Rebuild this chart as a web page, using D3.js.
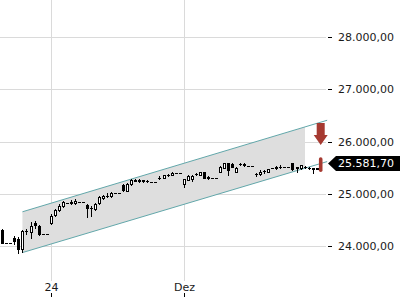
<!DOCTYPE html>
<html>
<head>
<meta charset="utf-8">
<script src="https://cdn.jsdelivr.net/npm/d3@7"></script>
<style>
  html, body { margin: 0; padding: 0; background: #fff; }
  svg { display: block; font-family: "DejaVu Sans", sans-serif; }
</style>
</head>
<body>
<svg id="chart" width="400" height="300"></svg>
<script>
// Candle data (index = bar number, left to right)
const opens = [
  24310, 24065, 24065, 24160, 24140, 23950, 24295, 24275, 24445, 24390,
  24235, 24235, 24445, 24600, 24695, 24770, 24830, 24845, 24830, 24855,
  24855, 24790, 24740, 24715, 24820, 24925, 24970, 24960, 25010, 25010,
  25170, 25065, 25190, 25275, 25260, 25260, 25250, 25230, 25230, 25305,
  25315, 25365, 25365, 25410, 25410, 25190, 25270, 25285, 25380, 25365,
  25420, 25320, 25315, 25315, 25430, 25505, 25585, 25575, 25430, 25575,
  25575, 25540, 25540, 25380, 25380, 25440, 25430, 25490, 25490, 25525,
  25520, 25520, 25600, 25515, 25490, 25515, 25495, 25490, 25495, 25480
];
const highs = [
  24330, 24065, 24065, 24205, 24180, 24310, 24330, 24465, 24485, 24405,
  24235, 24235, 24620, 24715, 24810, 24865, 24830, 24885, 24905, 24855,
  24855, 24810, 24770, 24830, 24960, 24980, 25010, 25040, 25010, 25010,
  25190, 25210, 25285, 25285, 25285, 25275, 25270, 25230, 25230, 25345,
  25365, 25380, 25420, 25410, 25410, 25295, 25355, 25365, 25410, 25430,
  25430, 25345, 25315, 25315, 25535, 25595, 25595, 25585, 25515, 25595,
  25585, 25540, 25540, 25410, 25450, 25460, 25480, 25490, 25535, 25545,
  25520, 25520, 25600, 25525, 25555, 25535, 25515, 25495, 25495, 25705
];
const lows = [
  24065, 24065, 24065, 24045, 23870, 23890, 24235, 24160, 24350, 24215,
  24235, 24235, 24425, 24580, 24675, 24750, 24830, 24810, 24810, 24855,
  24855, 24560, 24580, 24695, 24810, 24905, 24935, 24945, 25010, 25010,
  25055, 25055, 25170, 25240, 25230, 25230, 25220, 25230, 25230, 25285,
  25305, 25335, 25355, 25410, 25410, 25135, 25260, 25250, 25355, 25355,
  25305, 25295, 25315, 25315, 25420, 25495, 25365, 25515, 25420, 25555,
  25535, 25540, 25540, 25345, 25365, 25410, 25420, 25490, 25480, 25495,
  25520, 25520, 25460, 25420, 25480, 25495, 25470, 25400, 25470, 25420
];
const closes = [
  24065, 24065, 24065, 24100, 23950, 24295, 24285, 24390, 24405, 24235,
  24235, 24235, 24580, 24695, 24770, 24845, 24830, 24835, 24875, 24855,
  24855, 24730, 24725, 24810, 24935, 24970, 24960, 25020, 25010, 25010,
  25075, 25200, 25275, 25250, 25250, 25250, 25240, 25230, 25230, 25315,
  25355, 25360, 25410, 25410, 25410, 25285, 25335, 25345, 25385, 25420,
  25315, 25315, 25315, 25315, 25525, 25585, 25460, 25525, 25505, 25570,
  25545, 25540, 25540, 25375, 25430, 25435, 25470, 25490, 25525, 25515,
  25520, 25520, 25470, 25495, 25545, 25510, 25490, 25485, 25480, 25581.7
];

// Axis ticks
const priceTicks = [24000, 25000, 26000, 27000, 28000];
const timeTickIdx = [12, 45];
const timeTickLabels = ["24", "Dez"];

// Trend channel: start/end bar index, upper and lower values at those ends
const channelIdx = [5, 80.6];
const channelUpper = [24660, 26410];
const channelLower = [23880, 25620];
const channelFillEndIdx = 75.1;

// Sell signal: arrow tip level above the last bar
const signalTip = 25935;
const lastPrice = closes[closes.length - 1];

const svg = d3.select("#chart");

const x = d3.scaleLinear().domain([0, 79]).range([2.3, 320.7]);
const y = d3.scaleLinear().domain([25000, 26000]).range([194, 141.7]);

const deFormat = d3.formatLocale({ decimal: ",", thousands: ".", grouping: [3], currency: ["", ""] }).format(",.2f");

const gridColor = "#dadada";

// Horizontal gridlines
svg.append("g")
  .selectAll("line")
  .data(priceTicks)
  .join("line")
  .attr("x1", 0).attr("x2", 326)
  .attr("y1", (v) => Math.round(y(v)) + 0.5)
  .attr("y2", (v) => Math.round(y(v)) + 0.5)
  .attr("stroke", gridColor);

// Vertical gridlines
svg.append("g")
  .selectAll("line")
  .data(timeTickIdx)
  .join("line")
  .attr("x1", (i) => Math.round(x(i)) + 0.5)
  .attr("x2", (i) => Math.round(x(i)) + 0.5)
  .attr("y1", 0).attr("y2", 281)
  .attr("stroke", gridColor);

// Channel fill and border lines
const lerp = (arr, i) => arr[0] + (arr[1] - arr[0]) * (i - channelIdx[0]) / (channelIdx[1] - channelIdx[0]);
const fillPts = [
  [x(channelIdx[0]), y(channelUpper[0])],
  [x(channelFillEndIdx), y(lerp(channelUpper, channelFillEndIdx))],
  [x(channelFillEndIdx), y(lerp(channelLower, channelFillEndIdx))],
  [x(channelIdx[0]), y(channelLower[0])]
];
svg.append("path")
  .attr("d", "M" + fillPts.map((p) => p.join(",")).join("L") + "Z")
  .attr("fill", "#dedede");

[channelUpper, channelLower].forEach((arr) => {
  svg.append("line")
    .attr("x1", x(channelIdx[0])).attr("y1", y(arr[0]))
    .attr("x2", x(channelIdx[1])).attr("y2", y(arr[1]))
    .attr("stroke", "#62a7aa")
    .attr("stroke-width", 1);
});

// Candles
const candles = d3.range(opens.length - 1).map((i) => ({
  i, o: opens[i], h: highs[i], l: lows[i], c: closes[i]
}));

const cg = svg.append("g").attr("shape-rendering", "crispEdges");
candles.forEach((d) => {
  const cx = Math.round(x(d.i));
  const yTop = Math.round(y(Math.max(d.o, d.c)));
  const yBot = Math.round(y(Math.min(d.o, d.c)));
  const yHi = Math.round(y(d.h));
  const yLo = Math.round(y(d.l));
  if (yHi < yLo) {
    cg.append("line")
      .attr("x1", cx + 0.5).attr("x2", cx + 0.5)
      .attr("y1", yHi).attr("y2", yLo + 1)
      .attr("stroke", "#000");
  }
  if (yBot - yTop < 1) {
    cg.append("line")
      .attr("x1", cx - 1).attr("x2", cx + 2)
      .attr("y1", yTop + 0.5).attr("y2", yTop + 0.5)
      .attr("stroke", "#000");
  } else {
    cg.append("rect")
      .attr("x", cx - 0.5).attr("width", 2)
      .attr("y", yTop + 0.5).attr("height", yBot - yTop)
      .attr("fill", d.c >= d.o ? "#fff" : "#000")
      .attr("stroke", "#000");
  }
});

// Last bar highlighted in red
const lastIdx = opens.length - 1;
const lx = x(lastIdx);
svg.append("rect")
  .attr("x", lx - 1.8).attr("width", 3.6)
  .attr("y", y(highs[lastIdx])).attr("height", y(lows[lastIdx]) - y(highs[lastIdx]))
  .attr("rx", 1.8)
  .attr("fill", "#a63a31");

// Sell arrow
const tipY = y(signalTip);
const arrow = [
  [lx - 4, tipY - 22], [lx + 4, tipY - 22], [lx + 4, tipY - 10], [lx + 7, tipY - 10],
  [lx, tipY], [lx - 7, tipY - 10], [lx - 4, tipY - 10]
];
svg.append("path")
  .attr("d", "M" + arrow.map((p) => p.join(",")).join("L") + "Z")
  .attr("fill", "#a63a31");

// Right price axis
const axisG = svg.append("g");
priceTicks.forEach((v) => {
  const ty = Math.round(y(v)) + 0.5;
  axisG.append("line")
    .attr("x1", 328).attr("x2", 332)
    .attr("y1", ty).attr("y2", ty)
    .attr("stroke", "#000");
  axisG.append("text")
    .attr("x", 338).attr("y", ty)
    .attr("dy", "0.35em")
    .attr("font-size", 11)
    .attr("fill", "#1a1a1a")
    .text(deFormat(v));
});

// Last price tag
const py = y(lastPrice);
svg.append("path")
  .attr("d", `M328,${py}L336,${py - 7.5}L400,${py - 7.5}L400,${py + 7.5}L336,${py + 7.5}Z`)
  .attr("fill", "#000");
svg.append("text")
  .attr("x", 338).attr("y", py)
  .attr("dy", "0.35em")
  .attr("font-size", 11)
  .attr("fill", "#fff")
  .text(deFormat(lastPrice));

// Bottom time axis
timeTickIdx.forEach((i, k) => {
  const tx = Math.round(x(i)) + 0.5;
  svg.append("text")
    .attr("x", tx).attr("y", 291)
    .attr("text-anchor", "middle")
    .attr("font-size", 11)
    .attr("fill", "#1a1a1a")
    .text(timeTickLabels[k]);
  svg.append("line")
    .attr("x1", tx).attr("x2", tx)
    .attr("y1", 293).attr("y2", 297)
    .attr("stroke", "#000");
});
</script>
</body>
</html>
